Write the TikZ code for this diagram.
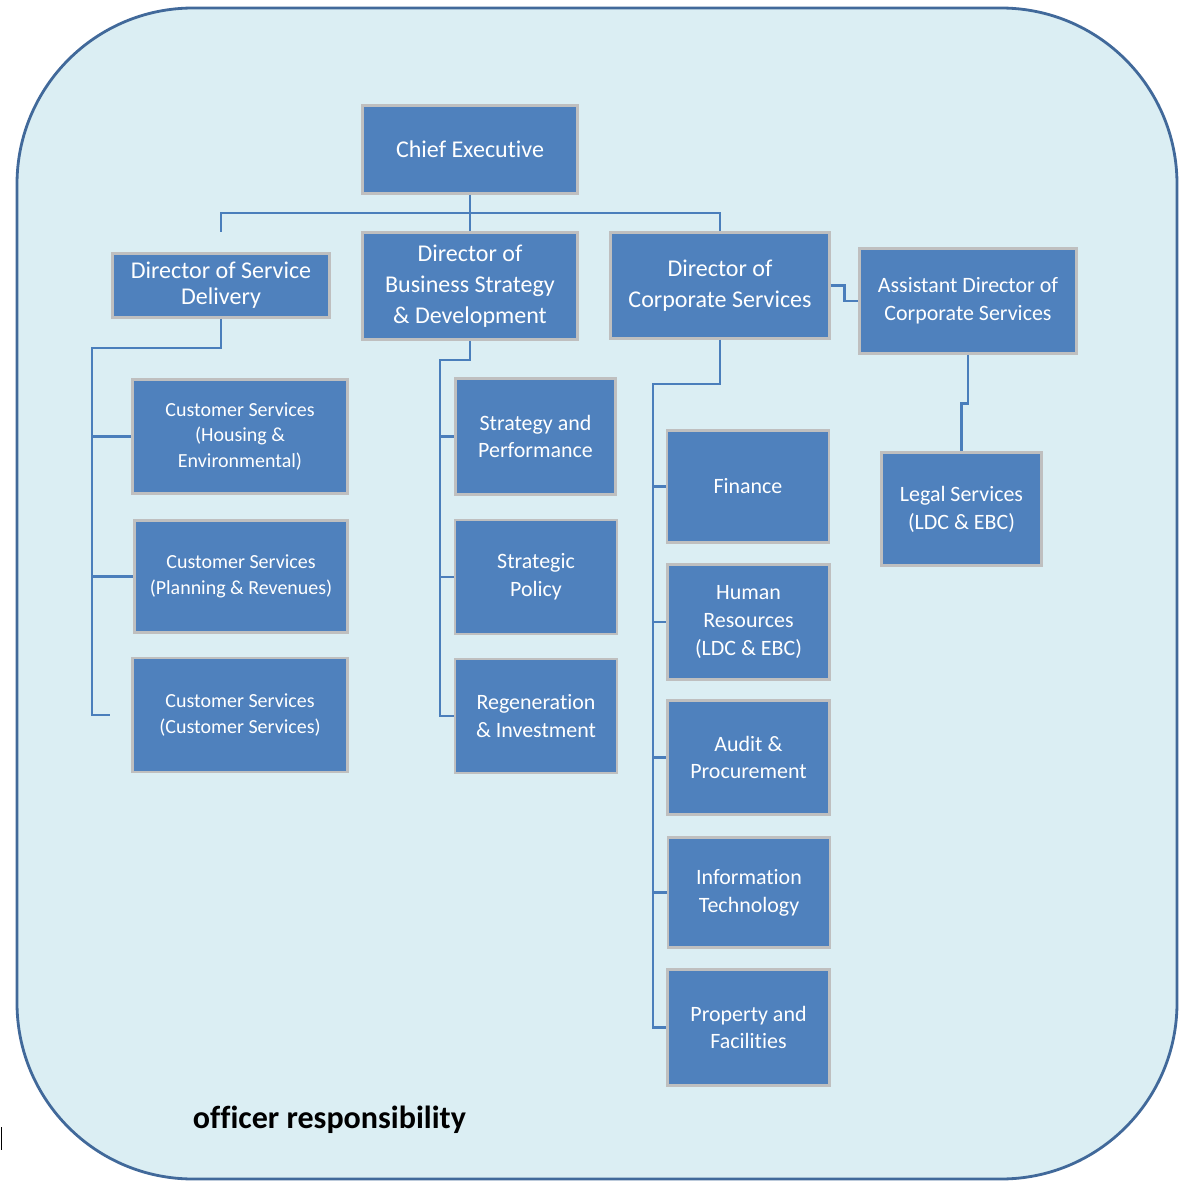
\documentclass[tikz,border=0pt]{standalone}
\usepackage{fontspec}
\setmainfont{Carlito}[Ligatures=NoCommon]
\definecolor{boxblue}{HTML}{4F81BD}
\definecolor{boxrim}{HTML}{BFBFBF}
\definecolor{linkblue}{HTML}{4A7EBB}
\definecolor{bgblue}{HTML}{DBEEF3}
\definecolor{rimblue}{HTML}{41699A}
\tikzset{
  post/.style={draw=boxrim, line width=1.6pt, fill=boxblue, text=white, align=center, inner sep=0pt},
  head/.style={font=\fontsize{17.1}{22}\selectfont},
  team/.style={post, font=\fontsize{15.6}{19.8}\selectfont, minimum width=4.05cm, minimum height=2.85cm},
  desk/.style={post, font=\fontsize{14.2}{18.1}\selectfont, minimum width=5.375cm, minimum height=2.85cm},
  link/.style={draw=linkblue, line width=2pt}
}
\begin{document}
\begin{tikzpicture}[x=0.025cm,y=-0.025cm]
  \useasboundingbox (0,0) rectangle (1182,1181);
  %% frame
  \draw[rimblue, fill=bgblue, line width=2pt, rounded corners=4.4cm] (17,8) rectangle (1177,1179);
  \draw[black, line width=1.4pt] (1.5,1127) -- (1.5,1150);
  %% top level
  \node[post, head, minimum width=5.375cm, minimum height=2.2cm] (chief) at (470,149.5) {Chief Executive};
  \node[post, font=\fontsize{17.1}{18.5}\selectfont, minimum width=5.425cm, minimum height=1.6cm] (dsd) at (221,285.5) {Director of Service\\Delivery};
  \node[post, head, minimum width=5.375cm, minimum height=2.675cm] (dbs) at (470,286) {Director of\\Business Strategy\\\& Development};
  \node[post, head, minimum width=5.475cm, minimum height=2.65cm] (dcs) at (720,285.5) {Director of\\Corporate Services};
  \node[post, font=\fontsize{15.6}{19.9}\selectfont, minimum width=5.425cm, minimum height=2.625cm] (adcs) at (968,301) {Assistant Director of\\Corporate Services};
  %% service delivery
  \node[desk] (cs1) at (240,436.5) {Customer Services\\(Housing \&\\Environmental)};
  \node[desk, minimum width=5.325cm, minimum height=2.8cm] (cs2) at (241,576.5) {Customer Services\\(Planning \& Revenues)};
  \node[desk] (cs3) at (240,715) {Customer Services\\(Customer Services)};
  %% business strategy
  \node[team, minimum width=4cm, minimum height=2.9cm] (sp) at (535.5,436.5) {Strategy and\\Performance};
  \node[team] (pol) at (536,577) {Strategic\\Policy};
  \node[team] (reg) at (536,716) {Regeneration\\\& Investment};
  %% corporate services
  \node[team, minimum height=2.8cm] (fin) at (748,486.5) {Finance};
  \node[team, minimum height=2.875cm] (hr) at (748.5,622) {Human\\Resources\\(LDC \& EBC)};
  \node[team] (aud) at (748.5,757.5) {Audit \&\\Procurement};
  \node[team, minimum height=2.75cm] (it) at (749,892.5) {Information\\Technology};
  \node[team, minimum height=2.9cm] (prop) at (748.5,1027.5) {Property and\\Facilities};
  \node[team, minimum width=4cm, minimum height=2.825cm] (legal) at (961.5,509) {Legal Services\\(LDC \& EBC)};
  %% caption
  \node[font=\bfseries\fontsize{22.8}{27}\selectfont, anchor=base] (title) at (329.5,1128) {officer responsibility};
  %% chief to directors
  \coordinate (rail) at (470,213);
  \coordinate (dsdend) at (221,232);
  \draw[link] (chief.south) -- (rail);
  \draw[link] (rail) -| (dsdend);
  \draw[link] (rail) -- (dbs.north);
  \draw[link] (rail) -| (dcs.north);
  %% service delivery lines
  \coordinate (sdbus) at (92,348);
  \coordinate (sdend) at (110,715);
  \draw[link] (dsd.south) |- (sdbus) |- (sdend);
  \foreach \n in {cs1,cs2} \draw[link] (sdbus |- \n.west) -- (\n.west);
  %% business strategy lines
  \coordinate (bsbus) at (440,360);
  \draw[link] (dbs.south) |- (bsbus) |- (reg.west);
  \foreach \n in {sp,pol} \draw[link] (bsbus |- \n.west) -- (\n.west);
  %% corporate services lines
  \coordinate (csbus) at (653,384);
  \draw[link] (dcs.south) |- (csbus) |- (prop.west);
  \foreach \n in {fin,hr,aud,it} \draw[link] (csbus |- \n.west) -- (\n.west);
  %% assistant director
  \draw[link] (dcs.east) -- ++(14,0) |- (adcs.west);
  \draw[link] (adcs.south) -- ++(0,49) -| (legal.north);
\end{tikzpicture}
\end{document}
